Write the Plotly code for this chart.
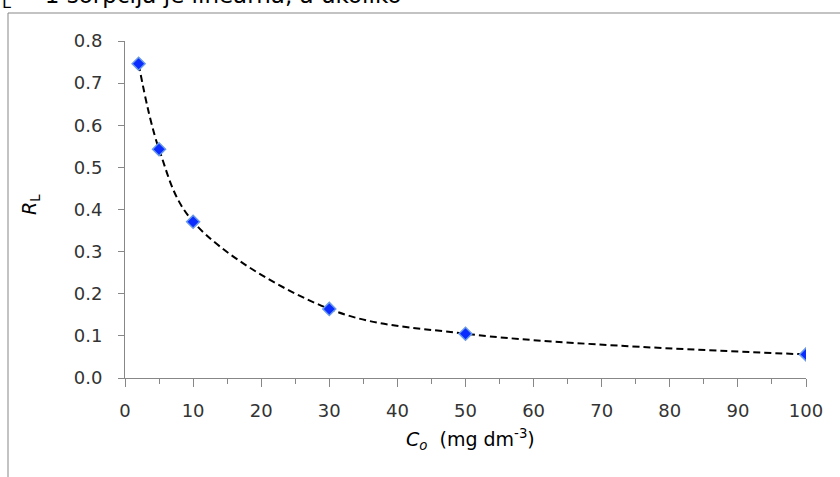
import plotly.graph_objects as go

# Data
c0 = [2, 5, 10, 30, 50, 100]
rl = [0.746, 0.543, 0.371, 0.164, 0.105, 0.056]
y_ticks = [0.0, 0.1, 0.2, 0.3, 0.4, 0.5, 0.6, 0.7, 0.8]
x_ticks = [0, 10, 20, 30, 40, 50, 60, 70, 80, 90, 100]

W, H = 840, 477
L, R, T, B = 125, 34, 41, 99
PW, PH = W - L - R, H - T - B


def px(xp):
    return (xp - L) / PW


def py(yp):
    return (H - B - yp) / PH


fig = go.Figure()
fig.add_trace(go.Scatter(
    x=c0, y=rl, mode="lines",
    line=dict(color="black", width=2, dash="7px,4px", shape="spline", smoothing=1.0),
    hoverinfo="skip", showlegend=False,
))
fig.add_trace(go.Scatter(
    x=c0, y=rl, mode="markers",
    marker=dict(symbol="diamond", size=10, color="#0a2cff",
                line=dict(color="#6a9ae8", width=1.5)),
    showlegend=False,
))

axis_col = "#878787"
tick_font = dict(family="DejaVu Sans, sans-serif", size=18, color="#333333")

fig.update_xaxes(
    range=[0, 100], tickvals=x_ticks, ticktext=[str(v) for v in x_ticks],
    showline=True, linecolor=axis_col, linewidth=1, mirror=False,
    ticks="outside", ticklen=8, tickcolor=axis_col, tickwidth=1,
    minor=dict(dtick=5, tick0=0, ticks="outside", ticklen=5, tickcolor=axis_col, tickwidth=1, showgrid=False),
    showgrid=False, zeroline=False, tickfont=tick_font, ticklabelstandoff=8,
)
fig.update_yaxes(
    range=[0, 0.8], tickvals=y_ticks, ticktext=[f"{v:.1f}" for v in y_ticks],
    showline=True, linecolor=axis_col, linewidth=1,
    ticks="outside", ticklen=6, tickcolor=axis_col, tickwidth=1,
    showgrid=False, zeroline=False, tickfont=tick_font, ticklabelstandoff=12,
)

title_font = dict(family="DejaVu Sans, sans-serif", size=19, color="black")
annotations = [
    dict(text="<i>C<sub>o</sub></i>  (mg dm<sup>-3</sup>)", x=px(470), y=py(440),
         xref="paper", yref="paper", showarrow=False, font=title_font,
         xanchor="center", yanchor="middle"),
    dict(text="<i>R</i><sub>L</sub>", x=px(30), y=py(205),
         xref="paper", yref="paper", showarrow=False, font=title_font, textangle=-90,
         xanchor="center", yanchor="middle"),
    dict(text="<sub>L</sub> = 1 sorpcija je linearna, a ukoliko", x=px(0), y=py(14),
         xref="paper", yref="paper", showarrow=False,
         font=dict(family="DejaVu Sans, sans-serif", size=23, color="black"),
         xanchor="left", yanchor="bottom"),
]

shapes = [
    dict(type="line", xref="paper", yref="paper", x0=px(8), x1=px(845), y0=py(13), y1=py(13),
         line=dict(color=axis_col, width=1)),
    dict(type="line", xref="paper", yref="paper", x0=px(8), x1=px(8), y0=py(13), y1=py(480),
         line=dict(color=axis_col, width=1)),
]

fig.update_layout(
    width=W, height=H, margin=dict(l=L, r=R, t=T, b=B),
    paper_bgcolor="white", plot_bgcolor="white",
    annotations=annotations, shapes=shapes, showlegend=False,
)

fig.write_html("out.html", config={"displayModeBar": False},
               post_script="document.body.style.margin='0px';document.body.style.overflow='hidden';")
